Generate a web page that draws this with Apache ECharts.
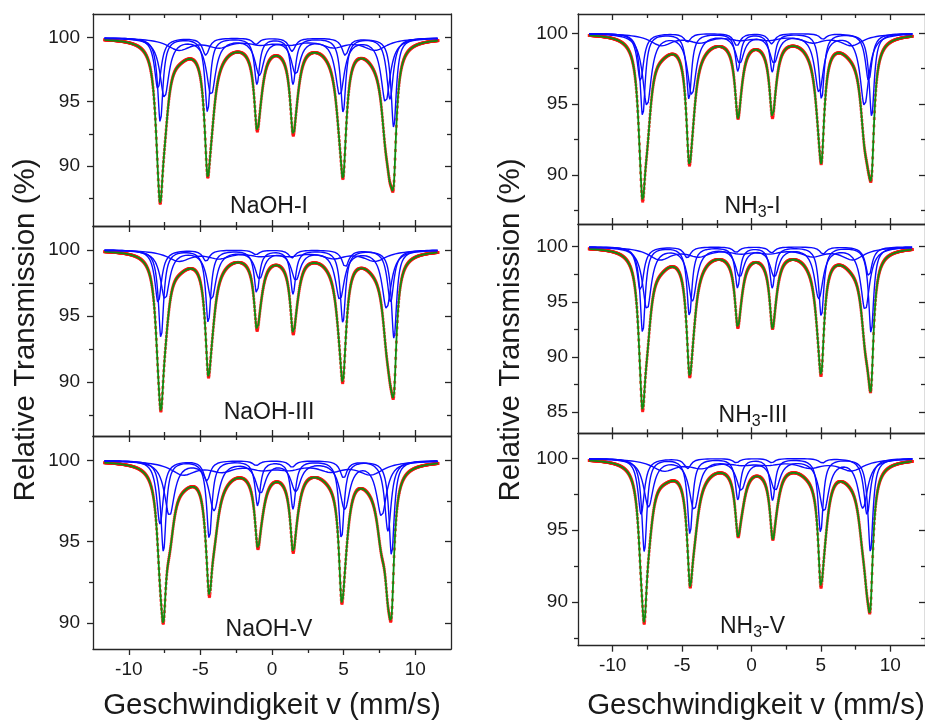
<!DOCTYPE html>
<html>
<head>
<meta charset="utf-8">
<title>Mössbauer spectra</title>
<script src="https://cdn.jsdelivr.net/npm/echarts@6/dist/echarts.min.js"></script>
<style>
  html, body { margin: 0; padding: 0; background: #ffffff; }
  #chart { width: 925px; height: 720px; }
</style>
</head>
<body>
<div id="chart"></div>
<script>
// Measured velocity window and channel count
const VELOCITY_FROM = -11.7;
const VELOCITY_TO = 11.6;
const CHANNELS = 1024;

// Tick positions (mm/s)
const X_MAJOR = [-10, -5, 0, 5, 10];
const X_MINOR = [-7.5, -2.5, 2.5, 7.5];

// Panel order: NaOH-I, NaOH-III, NaOH-V, NH3-I, NH3-III, NH3-V
const PANEL_LABELS = ['{a|NaOH-I}', '{a|NaOH-III}', '{a|NaOH-V}',
                      '{a|NH}{b|3}{a|-I}', '{a|NH}{b|3}{a|-III}', '{a|NH}{b|3}{a|-V}'];
const Y_MIN = [85.3, 85.9, 88.4, 86.54, 83.07, 86.95];
const Y_MAX = [101.85, 101.8, 101.5, 101.36, 102.06, 101.74];
const Y_MAJOR = [[90, 95, 100], [90, 95, 100], [90, 95, 100], [90, 95, 100], [85, 90, 95, 100], [90, 95, 100]];
const Y_MINOR = [[87.5, 92.5, 97.5], [87.5, 92.5, 97.5], [92.5, 97.5], [87.5, 92.5, 97.5], [87.5, 92.5, 97.5], [87.5, 92.5, 97.5]];

// Subspectra: six line positions (mm/s), six line depths (% absorption), half width (mm/s)
const NAOH_I_POS = [
  [-7.80, -4.50, -1.05, 1.47, 4.97, 8.50],
  [-7.51, -4.25, -0.88, 1.66, 4.74, 7.93],
  [-7.97, -4.62, -1.12, 1.40, 5.12, 8.24],
  [-6.50, -3.70, -0.80, 1.25, 4.30, 7.20]
];
const NAOH_I_DEPTH = [
  [6.6, 5.8, 3.6, 3.6, 5.8, 7.0],
  [4.6, 4.4, 2.8, 2.7, 4.4, 5.0],
  [4.0, 1.35, 0.5, 1.05, 1.35, 4.8],
  [0.9, 0.65, 0.4, 0.4, 0.65, 0.9]
];
const NAOH_I_HWHM = [0.22, 0.38, 0.28, 1.0];

const NAOH_III_POS = [
  [-7.75, -4.45, -1.06, 1.47, 4.95, 8.52],
  [-7.47, -4.22, -0.88, 1.66, 4.74, 8.00],
  [-7.95, -4.60, -1.12, 1.40, 5.12, 8.28],
  [-6.50, -3.70, -0.80, 1.25, 4.30, 7.20]
];
const NAOH_III_DEPTH = [
  [6.7, 5.5, 3.3, 3.3, 5.5, 6.7],
  [3.7, 3.7, 2.1, 2.2, 3.7, 4.4],
  [4.0, 0.85, 0.35, 0.6, 1.3, 3.95],
  [0.8, 0.55, 0.35, 0.35, 0.55, 0.8]
];
const NAOH_III_HWHM = [0.22, 0.38, 0.28, 1.0];

const NAOH_V_POS = [
  [-7.58, -4.38, -1.00, 1.47, 4.85, 8.35],
  [-7.16, -4.05, -0.80, 1.66, 5.08, 7.65],
  [-7.82, -4.55, -1.10, 1.40, 5.00, 8.10],
  [-6.20, -3.50, -0.70, 1.20, 4.10, 6.90]
];
const NAOH_V_DEPTH = [
  [5.6, 4.8, 2.76, 2.95, 4.8, 5.85],
  [3.35, 3.0, 1.9, 1.8, 2.9, 3.35],
  [3.9, 1.25, 0.3, 0.4, 1.07, 4.35],
  [0.8, 0.55, 0.4, 0.4, 0.55, 0.8]
];
const NAOH_V_HWHM = [0.22, 0.42, 0.28, 1.1];

const NH3_I_POS = [
  [-7.84, -4.50, -0.98, 1.50, 5.05, 8.66],
  [-7.53, -4.30, -0.85, 1.62, 4.87, 8.14],
  [-8.00, -4.62, -1.05, 1.45, 5.15, 8.44],
  [-6.50, -3.70, -0.80, 1.25, 4.40, 7.20]
];
const NH3_I_DEPTH = [
  [5.85, 4.65, 2.65, 2.7, 4.65, 5.85],
  [5.05, 4.25, 2.0, 2.0, 4.1, 5.05],
  [3.37, 0.6, 0.88, 0.74, 0.4, 3.4],
  [0.8, 0.55, 0.35, 0.35, 0.55, 0.8]
];
const NH3_I_HWHM = [0.22, 0.38, 0.28, 1.0];

const NH3_III_POS = [
  [-7.84, -4.47, -1.00, 1.50, 5.03, 8.62],
  [-7.53, -4.26, -0.85, 1.65, 4.85, 8.19],
  [-8.00, -4.62, -1.10, 1.45, 5.15, 8.45],
  [-6.60, -3.80, -0.80, 1.30, 4.40, 7.30]
];
const NH3_III_DEPTH = [
  [7.83, 6.27, 3.7, 3.7, 6.33, 7.83],
  [5.66, 4.82, 2.6, 2.6, 4.6, 5.72],
  [4.05, 1.0, 0.5, 0.55, 0.65, 2.7],
  [1.1, 0.75, 0.45, 0.45, 0.75, 1.1]
];
const NH3_III_HWHM = [0.22, 0.38, 0.28, 1.0];

const NH3_V_POS = [
  [-7.72, -4.43, -0.98, 1.52, 4.98, 8.57],
  [-7.42, -4.14, -0.75, 1.71, 5.22, 8.02],
  [-7.95, -4.60, -1.10, 1.45, 5.10, 8.33],
  [-6.30, -3.60, -0.70, 1.20, 4.20, 7.20]
];
const NH3_V_DEPTH = [
  [6.5, 5.27, 2.85, 2.89, 5.17, 6.5],
  [3.32, 3.5, 2.1, 2.1, 3.6, 3.4],
  [3.9, 0.7, 0.3, 0.3, 0.3, 3.95],
  [0.8, 0.55, 0.3, 0.3, 0.55, 0.8]
];
const NH3_V_HWHM = [0.22, 0.42, 0.28, 1.1];

const PANEL_POS = [NAOH_I_POS, NAOH_III_POS, NAOH_V_POS, NH3_I_POS, NH3_III_POS, NH3_V_POS];
const PANEL_DEPTH = [NAOH_I_DEPTH, NAOH_III_DEPTH, NAOH_V_DEPTH, NH3_I_DEPTH, NH3_III_DEPTH, NH3_V_DEPTH];
const PANEL_HWHM = [NAOH_I_HWHM, NAOH_III_HWHM, NAOH_V_HWHM, NH3_I_HWHM, NH3_III_HWHM, NH3_V_HWHM];

// Plot-area boxes (px) for the two columns of stacked panels
const GRIDS = [
  { left: 93, top: 14, width: 358, height: 212 },
  { left: 93, top: 226, width: 358, height: 210 },
  { left: 93, top: 436, width: 358, height: 213 },
  { left: 578, top: 14, width: 356, height: 210 },
  { left: 578, top: 224, width: 356, height: 209.3 },
  { left: 578, top: 433.3, width: 356, height: 212.4 }
];

const FONT = '"Liberation Sans", Arial, Helvetica, sans-serif';
const AXIS_COLOR = '#262626';
const TEXT_COLOR = '#1a1a1a';

const velocities = [];
for (let i = 0; i < CHANNELS; i++) {
  velocities.push(VELOCITY_FROM + i * (VELOCITY_TO - VELOCITY_FROM) / (CHANNELS - 1));
}

// Absorption of one sextet of Lorentzian lines at velocity v
function sextetAbsorption(pos, depth, hw, v) {
  let s = 0;
  for (let k = 0; k < pos.length; k++) {
    const d = (v - pos[k]) / hw;
    s += depth[k] / (1 + d * d);
  }
  return s;
}

const lineStyleAxis = { color: AXIS_COLOR, width: 1.3 };

function xAxesFor(p, bottomPanel) {
  const base = { type: 'value', gridIndex: p, min: -12.5, max: 12.5, splitLine: { show: false } };
  return [
    Object.assign({}, base, {
      position: 'bottom',
      axisLine: { show: true, onZero: false, lineStyle: lineStyleAxis },
      axisTick: { show: true, customValues: X_MAJOR, inside: !bottomPanel, length: 6, lineStyle: lineStyleAxis },
      axisLabel: { show: bottomPanel, customValues: X_MAJOR, fontSize: 19, fontFamily: FONT, color: TEXT_COLOR, margin: 11 }
    }),
    Object.assign({}, base, {
      position: 'top',
      axisLine: { show: true, onZero: false, lineStyle: lineStyleAxis },
      axisTick: { show: true, customValues: X_MAJOR, inside: true, length: 6, lineStyle: lineStyleAxis },
      axisLabel: { show: false }
    }),
    Object.assign({}, base, {
      position: 'bottom',
      axisLine: { show: false, onZero: false },
      axisTick: { show: true, customValues: X_MINOR, inside: !bottomPanel, length: 4, lineStyle: lineStyleAxis },
      axisLabel: { show: false }
    }),
    Object.assign({}, base, {
      position: 'top',
      axisLine: { show: false, onZero: false },
      axisTick: { show: true, customValues: X_MINOR, inside: true, length: 4, lineStyle: lineStyleAxis },
      axisLabel: { show: false }
    })
  ];
}

function yAxesFor(p, labelMargin) {
  const lo = Y_MIN[p], hi = Y_MAX[p];
  const minor = Y_MINOR[p].filter(v => v > lo && v < hi);
  const base = { type: 'value', gridIndex: p, min: lo, max: hi, splitLine: { show: false } };
  return [
    Object.assign({}, base, {
      position: 'left',
      axisLine: { show: true, onZero: false, lineStyle: lineStyleAxis },
      axisTick: { show: true, customValues: Y_MAJOR[p], inside: false, length: 6, lineStyle: lineStyleAxis },
      axisLabel: { show: true, customValues: Y_MAJOR[p], fontSize: 19, fontFamily: FONT, color: TEXT_COLOR, margin: labelMargin }
    }),
    Object.assign({}, base, {
      position: 'right',
      axisLine: { show: true, onZero: false, lineStyle: lineStyleAxis },
      axisTick: { show: true, customValues: Y_MAJOR[p], inside: true, length: 6, lineStyle: lineStyleAxis },
      axisLabel: { show: false }
    }),
    Object.assign({}, base, {
      position: 'left',
      axisLine: { show: false, onZero: false },
      axisTick: { show: true, customValues: minor, inside: false, length: 4, lineStyle: lineStyleAxis },
      axisLabel: { show: false }
    }),
    Object.assign({}, base, {
      position: 'right',
      axisLine: { show: false, onZero: false },
      axisTick: { show: true, customValues: minor, inside: true, length: 4, lineStyle: lineStyleAxis },
      axisLabel: { show: false }
    })
  ];
}

const xAxis = [], yAxis = [], series = [];
for (let p = 0; p < 6; p++) {
  const bottomPanel = (p === 2 || p === 5);
  xAxis.push(...xAxesFor(p, bottomPanel));
  yAxis.push(...yAxesFor(p, p < 3 ? 13 : 10));

  const pos = PANEL_POS[p], depth = PANEL_DEPTH[p], hw = PANEL_HWHM[p];
  const total = velocities.map(() => 0);
  const subCurves = pos.map((lines, c) => velocities.map((v, i) => {
    const a = sextetAbsorption(lines, depth[c], hw[c], v);
    total[i] += a;
    return [v, 100 - a];
  }));
  const fit = velocities.map((v, i) => [v, 100 - total[i]]);

  const axisRef = { xAxisIndex: p * 4, yAxisIndex: p * 4 };
  series.push(Object.assign({
    type: 'scatter', name: 'Messwerte', data: fit, symbol: 'rect', symbolSize: 2.8,
    itemStyle: { color: '#ff1010' }, z: 1, silent: true
  }, axisRef));
  series.push(Object.assign({
    type: 'line', name: 'Anpassung', data: fit, showSymbol: false, symbol: 'none',
    lineStyle: { color: '#108c10', width: 1.8 }, z: 2, silent: true
  }, axisRef));
  subCurves.forEach(curve => {
    series.push(Object.assign({
      type: 'line', name: 'Teilspektrum', data: curve, showSymbol: false, symbol: 'none',
      lineStyle: { color: '#0a0aff', width: 1.4 }, z: 3, silent: true
    }, axisRef));
  });
}

// Panel captions and axis titles
const LABEL_CENTERS = [[269, 207], [269, 413], [269, 629.5], [752.5, 207], [753, 415.5], [752.5, 627]];
const graphic = PANEL_LABELS.map((txt, p) => ({
  type: 'text', x: LABEL_CENTERS[p][0], y: LABEL_CENTERS[p][1], z: 10,
  style: {
    text: txt, align: 'center', verticalAlign: 'middle',
    rich: {
      a: { fontSize: 23, fontFamily: FONT, fill: TEXT_COLOR, color: TEXT_COLOR },
      b: { fontSize: 16, fontFamily: FONT, fill: TEXT_COLOR, color: TEXT_COLOR, padding: [12, 0, 0, 0] }
    }
  }
}));
[[272, 706], [756, 706]].forEach(([x, y]) => graphic.push({
  type: 'text', x, y, z: 10,
  style: { text: 'Geschwindigkeit v (mm/s)', fontSize: 29.5, fontFamily: FONT, fill: TEXT_COLOR, align: 'center', verticalAlign: 'middle' }
}));
[[26, 330], [511, 330]].forEach(([x, y]) => graphic.push({
  type: 'text', x, y, rotation: Math.PI / 2, z: 10,
  style: { text: 'Relative Transmission (%)', fontSize: 29.5, fontFamily: FONT, fill: TEXT_COLOR, align: 'center', verticalAlign: 'middle' }
}));

const chart = echarts.init(document.getElementById('chart'), null, { renderer: 'canvas' });
chart.setOption({
  animation: false,
  backgroundColor: '#ffffff',
  grid: GRIDS.map(g => Object.assign({ containLabel: false }, g)),
  xAxis, yAxis, series, graphic
});
</script>
</body>
</html>
